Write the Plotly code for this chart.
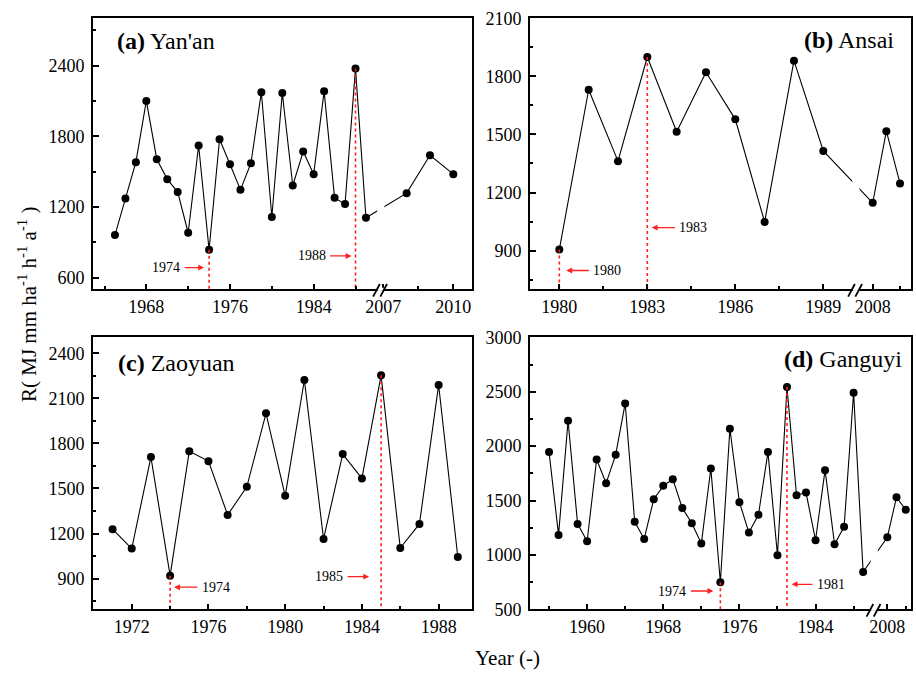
import plotly.graph_objects as go

FONT = "Liberation Serif"

# ---------------- data ----------------
years_a = list(range(1965, 1990)) + [2008, 2009, 2010]
r_a = [962, 1273, 1581, 2101, 1606, 1437, 1327, 982, 1722, 838, 1776, 1564, 1346,
       1572, 2174, 1115, 2168, 1383, 1671, 1479, 2182, 1278, 1225, 2375, 1109,
       1318, 1640, 1479]

years_b = list(range(1980, 1990)) + [2008, 2009, 2010]
r_b = [905, 1731, 1362, 1900, 1514, 1821, 1578, 1048, 1881, 1415, 1147, 1517, 1247]

years_c = list(range(1971, 1990))
r_c = [1229, 1100, 1709, 920, 1747, 1682, 1324, 1511, 2000, 1451, 2222, 1164, 1729,
       1567, 2253, 1104, 1264, 2189, 1044]

years_d = list(range(1956, 1990)) + [2008, 2009, 2010]
r_d = [1945, 1184, 2233, 1285, 1126, 1877, 1659, 1920, 2392, 1304, 1147, 1512, 1635,
       1696, 1432, 1291, 1104, 1794, 748, 2159, 1485, 1205, 1368, 1945, 997, 2543,
       1549, 1573, 1135, 1779, 1098, 1258, 2490, 843, 1162, 1530, 1414]

titles = ["(a)", "(b)", "(c)", "(d)"]
stations = ["Yan'an", "Ansai", "Zaoyuan", "Ganguyi"]
marked_years = [[1974, 1988], [1980, 1983], [1974, 1985], [1974, 1981]]

xmajor_a = [1968, 1976, 1984, 2007, 2010]
xminor_a = [1964, 1972, 1980, 1988, 2008.5]
xmajor_b = [1980, 1983, 1986, 1989, 2008]
xminor_b = [1981.5, 1984.5, 1987.5, 2010]
xmajor_c = [1972, 1976, 1980, 1984, 1988]
xminor_c = [1974, 1978, 1982, 1986]
xmajor_d = [1960, 1968, 1976, 1984, 2008]
xminor_d = [1956, 1964, 1972, 1980, 1988, 2010]

ymajor_a = [600, 1200, 1800, 2400]
yminor_a = [900, 1500, 2100, 2700]
ymajor_b = [900, 1200, 1500, 1800, 2100]
yminor_b = [750, 1050, 1350, 1650, 1950]
ymajor_c = [900, 1200, 1500, 1800, 2100, 2400]
yminor_c = [750, 1050, 1350, 1650, 1950, 2250]
ymajor_d = [500, 1000, 1500, 2000, 2500, 3000]
yminor_d = [750, 1250, 1750, 2250, 2750]


# ---------------- broken-axis mapping ----------------
def make_map(seg2_start, seg2_pos, k):
    def f(y):
        if seg2_start is None or y < 2000:
            return y
        return seg2_pos + (y - seg2_start) * k
    return f


panels = [
    dict(years=years_a, r=r_a, xmaj=xmajor_a, xmin=xminor_a, ymaj=ymajor_a, ymin=yminor_a,
         xr=[1962.9, 1999.14], yr=[502, 2802], map=make_map(2007, 1990.66, 2.231),
         brk=1990.42, dom_x=[93, 472], dom_y=[18.3, 289.3],
         title_pos=(0.057, 0.917, "left"),
         ann=[(686, 5, -43), (785, 4, -44)]),
    dict(years=years_b, r=r_b, xmaj=xmajor_b, xmin=xminor_b, ymaj=ymajor_b, ymin=yminor_b,
         xr=[1979.0, 1991.99], yr=[700, 2100], map=make_map(2008, 1990.685, 0.4654),
         brk=1990.11, dom_x=[530, 911], dom_y=[18.3, 289.3],
         title_pos=(0.961, 0.92, "right"),
         ann=[(797, 7, 48), (1019, 4.4, 46)]),
    dict(years=years_c, r=r_c, xmaj=xmajor_c, xmin=xminor_c, ymaj=ymajor_c, ymin=yminor_c,
         xr=[1969.98, 1989.74], yr=[696, 2506], map=make_map(None, None, None),
         brk=None, dom_x=[93, 472], dom_y=[337.3, 609.3],
         title_pos=(0.061, 0.905, "left"),
         ann=[(843, 4, 45.7), (913, 12, -52)]),
    dict(years=years_d, r=r_d, xmaj=xmajor_d, xmin=xminor_d, ymaj=ymajor_d, ymin=yminor_d,
         xr=[1954.0, 1994.03], yr=[500, 3000], map=make_map(2008, 1991.54, 0.97),
         brk=1990.17, dom_x=[530, 911], dom_y=[337.3, 609.3],
         title_pos=(0.982, 0.92, "right"),
         ann=[(668, 7, -48), (730, 4.7, 44)]),
]

W, H = 916, 673
fig = go.Figure()
shapes = []
annotations = []
layout = {}

for i, p in enumerate(panels):
    n = i + 1
    xs = "x" if n == 1 else f"x{n}"
    ys = "y" if n == 1 else f"y{n}"
    xk = "xaxis" if n == 1 else f"xaxis{n}"
    yk = "yaxis" if n == 1 else f"yaxis{n}"
    m = p["map"]
    xpos = [m(v) for v in p["years"]]

    fig.add_trace(go.Scatter(
        x=xpos, y=p["r"], mode="lines+markers", xaxis=xs, yaxis=ys,
        line=dict(color="black", width=1.1),
        marker=dict(color="black", size=8), showlegend=False, hoverinfo="skip"))

    # red dotted marker lines
    for yr_mark in marked_years[i]:
        val = p["r"][p["years"].index(yr_mark)]
        fig.add_trace(go.Scatter(
            x=[m(yr_mark), m(yr_mark)], y=[val, p["yr"][0]], mode="lines",
            xaxis=xs, yaxis=ys, line=dict(color="#ff2020", width=1.6, dash="dot"),
            showlegend=False, hoverinfo="skip"))

    # red arrows with year labels (text sits at the arrow's tail)
    for yr_mark, (yv, stand, tshift) in zip(marked_years[i], p["ann"]):
        annotations.append(dict(
            x=m(yr_mark), y=yv, xref=xs, yref=ys, text=str(yr_mark), showarrow=True,
            ax=tshift, ay=0, arrowhead=2, arrowsize=0.9, arrowwidth=1.3,
            arrowcolor="#ff2020", standoff=stand, borderpad=4,
            font=dict(family=FONT, size=14, color="black")))

    # panel title
    tx, ty, anc = p["title_pos"]
    annotations.append(dict(
        x=tx, y=ty, xref=f"{xs} domain", yref=f"{ys} domain",
        text=f"<b>{titles[i]}</b> {stations[i]}", showarrow=False,
        xanchor=anc, yanchor="middle", font=dict(family=FONT, size=24, color="black")))

    # axis break
    if p["brk"] is not None:
        shapes.append(dict(type="rect", xref=xs, yref=f"{ys} domain", xsizemode="pixel",
                           xanchor=p["brk"], x0=-3.6, x1=3.6, y0=0.06, y1=0.94,
                           fillcolor="white", line=dict(width=0), layer="above"))
        shapes.append(dict(type="rect", xref=xs, yref=f"{ys} domain", xsizemode="pixel",
                           ysizemode="pixel", xanchor=p["brk"], yanchor=0,
                           x0=-3.2, x1=3.0, y0=-1.6, y1=1.6,
                           fillcolor="white", line=dict(width=0), layer="above"))
        for dx in (0.0, 7.2):
            shapes.append(dict(type="line", xref=xs, yref=f"{ys} domain", xsizemode="pixel",
                               ysizemode="pixel", xanchor=p["brk"], yanchor=0,
                               x0=-7.7 + dx, y0=-7.4, x1=-1.0 + dx, y1=5.3,
                               line=dict(color="black", width=1.8), layer="above"))

    axis_common = dict(showline=True, mirror=True, linecolor="black", linewidth=1.6,
                       showgrid=False, zeroline=False, ticks="inside", ticklen=6,
                       tickwidth=1.5, tickcolor="black", automargin=False,
                       tickfont=dict(family=FONT, size=18, color="black"))
    layout[xk] = dict(axis_common, domain=[p["dom_x"][0] / W, p["dom_x"][1] / W],
                      range=p["xr"], anchor=ys, tickmode="array",
                      tickvals=[m(v) for v in p["xmaj"]],
                      ticktext=[str(v) for v in p["xmaj"]],
                      minor=dict(tickmode="array", tickvals=[m(v) for v in p["xmin"]],
                                 ticks="inside", ticklen=3.5, tickwidth=1.5,
                                 tickcolor="black"))
    layout[yk] = dict(axis_common, domain=[1 - p["dom_y"][1] / H, 1 - p["dom_y"][0] / H],
                      range=p["yr"], anchor=xs, tickmode="array",
                      tickvals=p["ymaj"], ticktext=[str(v) for v in p["ymaj"]],
                      ticklabelstandoff=3,
                      minor=dict(tickmode="array", tickvals=p["ymin"], ticks="inside",
                                 ticklen=3.5, tickwidth=1.5, tickcolor="black"))

annotations.append(dict(
    x=28 / W, y=1 - 305 / H, xref="paper", yref="paper", textangle=-90,
    text="R( MJ mm ha<sup>-1</sup> h<sup>-1</sup> a<sup>-1</sup> )", showarrow=False,
    xanchor="center", yanchor="middle", font=dict(family=FONT, size=21, color="black")))
annotations.append(dict(
    x=508 / W, y=1 - 658 / H, xref="paper", yref="paper", text="Year (-)",
    showarrow=False, xanchor="center", yanchor="middle",
    font=dict(family=FONT, size=21, color="black")))

fig.update_layout(width=W, height=H, margin=dict(l=0, r=0, t=0, b=0, pad=0),
                  autosize=False,
                  paper_bgcolor="white", plot_bgcolor="white",
                  shapes=shapes, annotations=annotations, **layout)

post = ("document.documentElement.style.margin='0px';"
        "document.body.style.margin='0px';document.body.style.padding='0px';"
        "document.body.style.overflow='hidden';"
        "var gd=document.getElementById('{plot_id}');"
        "gd.style.position='absolute';gd.style.left='0px';gd.style.top='0px';")

fig.write_html("out.html", post_script=post, config={"displayModeBar": False})
